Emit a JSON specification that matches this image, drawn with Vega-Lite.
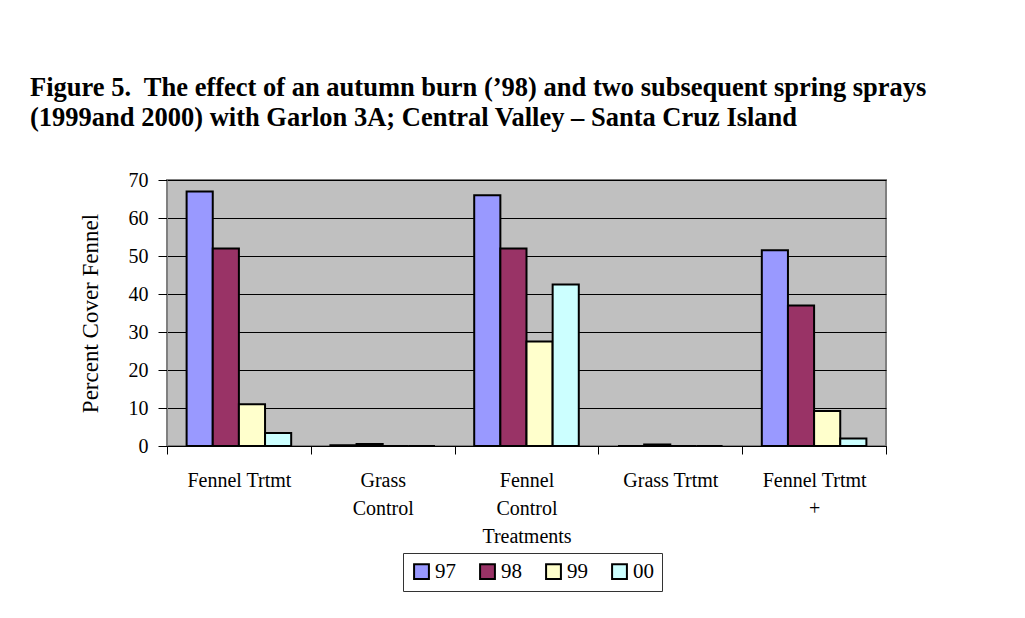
{
  "$schema": "https://vega.github.io/schema/vega-lite/v6.json",
  "autosize": {"type": "none"},
  "width": 719,
  "height": 266,
  "padding": {"left": 167, "top": 180, "right": 139, "bottom": 172},
  "background": "white",
  "title": {
    "text": ["Figure 5.\u00a0 The effect of an autumn burn (’98) and two subsequent spring sprays", "(1999and 2000) with Garlon 3A; Central Valley – Santa Cruz Island"],
    "anchor": "start",
    "frame": "group",
    "dx": -137,
    "offset": 39,
    "font": "Liberation Serif",
    "fontSize": 26.5,
    "fontWeight": "bold",
    "lineHeight": 30,
    "color": "black"
  },
  "data": {
    "values": [
      {"treatment": "Fennel Trtmt", "year": "97", "cover": 67},
      {"treatment": "Fennel Trtmt", "year": "98", "cover": 52},
      {"treatment": "Fennel Trtmt", "year": "99", "cover": 11},
      {"treatment": "Fennel Trtmt", "year": "00", "cover": 3.4},
      {"treatment": "Grass Control", "year": "97", "cover": 0.2},
      {"treatment": "Grass Control", "year": "98", "cover": 0.5},
      {"treatment": "Grass Control", "year": "99", "cover": 0},
      {"treatment": "Grass Control", "year": "00", "cover": 0},
      {"treatment": "Fennel Control Treatments", "year": "97", "cover": 66},
      {"treatment": "Fennel Control Treatments", "year": "98", "cover": 52},
      {"treatment": "Fennel Control Treatments", "year": "99", "cover": 27.5},
      {"treatment": "Fennel Control Treatments", "year": "00", "cover": 42.5},
      {"treatment": "Grass Trtmt", "year": "97", "cover": 0},
      {"treatment": "Grass Trtmt", "year": "98", "cover": 0.4},
      {"treatment": "Grass Trtmt", "year": "99", "cover": 0},
      {"treatment": "Grass Trtmt", "year": "00", "cover": 0},
      {"treatment": "Fennel Trtmt +", "year": "97", "cover": 51.5},
      {"treatment": "Fennel Trtmt +", "year": "98", "cover": 37},
      {"treatment": "Fennel Trtmt +", "year": "99", "cover": 9.2},
      {"treatment": "Fennel Trtmt +", "year": "00", "cover": 2}
    ]
  },
  "mark": {"type": "bar", "stroke": "black", "strokeWidth": 2},
  "encoding": {
    "x": {
      "field": "treatment",
      "type": "nominal",
      "sort": ["Fennel Trtmt", "Grass Control", "Fennel Control Treatments", "Grass Trtmt", "Fennel Trtmt +"],
      "scale": {"paddingInner": 0, "paddingOuter": 0},
      "axis": {
        "title": null,
        "labelAngle": 0,
        "labelFont": "Liberation Serif",
        "labelFontSize": 20,
        "labelColor": "black",
        "labelBaseline": "top",
        "labelLineHeight": 28,
        "labelPadding": 16,
        "tickSize": 8,
        "tickColor": "black",
        "tickBand": "extent",
        "domainColor": "black",
        "domainWidth": 1,
        "zindex": 1,
        "labelExpr": "datum.value == 'Grass Control' ? ['Grass', 'Control'] : datum.value == 'Fennel Control Treatments' ? ['Fennel', 'Control', 'Treatments'] : datum.value == 'Fennel Trtmt +' ? ['Fennel Trtmt', '+'] : datum.value"
      }
    },
    "xOffset": {
      "field": "year",
      "type": "nominal",
      "sort": ["97", "98", "99", "00"],
      "scale": {"paddingInner": 0, "paddingOuter": 0.75}
    },
    "y": {
      "field": "cover",
      "type": "quantitative",
      "scale": {"domain": [0, 70]},
      "axis": {
        "title": "Percent Cover Fennel",
        "titleFont": "Liberation Serif",
        "titleFontSize": 23,
        "titleFontWeight": "normal",
        "titleColor": "black",
        "titlePadding": 26,
        "values": [0, 10, 20, 30, 40, 50, 60, 70],
        "labelFont": "Liberation Serif",
        "labelFontSize": 20,
        "labelColor": "black",
        "labelPadding": 10,
        "tickSize": 9,
        "tickColor": "black",
        "domainColor": "#808080",
        "domainWidth": 1,
        "grid": true,
        "gridColor": "black",
        "gridWidth": 1,
        "gridOpacity": 1
      }
    },
    "fill": {
      "field": "year",
      "type": "nominal",
      "sort": ["97", "98", "99", "00"],
      "scale": {"domain": ["97", "98", "99", "00"], "range": ["#9999FF", "#993366", "#FFFFCC", "#CCFFFF"]},
      "legend": {
        "title": null,
        "orient": "none",
        "legendX": 236,
        "legendY": 373,
        "direction": "horizontal",
        "strokeColor": "#333333",
        "padding": 8,
        "symbolType": "square",
        "symbolSize": 220,
        "symbolStrokeColor": "black",
        "symbolStrokeWidth": 2,
        "symbolOpacity": 1,
        "labelFont": "Liberation Serif",
        "labelFontSize": 21,
        "labelColor": "black",
        "labelOffset": 3,
        "columnPadding": 20
      }
    }
  },
  "config": {
    "view": {"fill": "#C0C0C0", "stroke": "#808080", "strokeWidth": 2}
  }
}
